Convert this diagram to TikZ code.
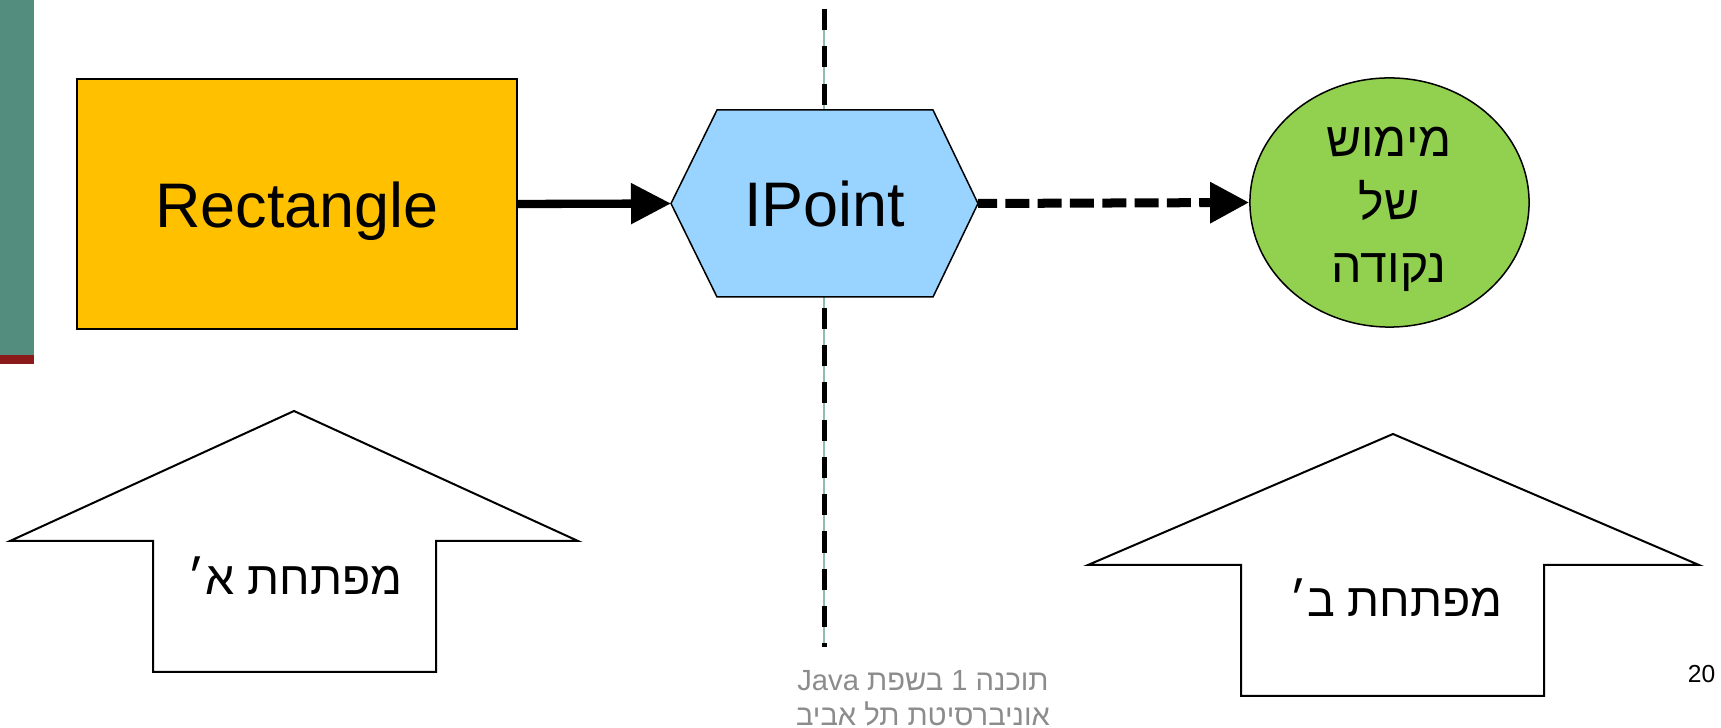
\documentclass[tikz,border=0pt]{standalone}
\usepackage{fontspec}
\setmainfont{Liberation Sans}
\newfontfamily\hebfont[Script=Hebrew]{Liberation Sans}
\TeXXeTstate=1
\usetikzlibrary{arrows.meta,shapes.geometric}
\definecolor{barteal}{HTML}{528D7E}
\definecolor{barred}{HTML}{8B1A1A}
\definecolor{rectfill}{HTML}{FFC000}
\definecolor{hexfill}{HTML}{99D3FF}
\definecolor{implfill}{HTML}{92D050}
\definecolor{guide}{HTML}{8DBDB0}
\definecolor{foot}{HTML}{8C8C8C}
\tikzset{
  bigtext/.style={font=\fontsize{17.9}{21}\selectfont, text height=0.46cm, text depth=0pt, inner sep=0pt},
  classbox/.style={draw=black, line width=0.02cm, fill=rectfill, minimum width=4.4cm, minimum height=2.5cm, bigtext},
  hexshape/.style={draw=black, line width=0.015cm, fill=hexfill, line join=miter},
  implshape/.style={ellipse, draw=black, line width=0.015cm, fill=implfill, minimum width=2.79cm, minimum height=2.49cm, inner sep=0pt},
  hebtext/.style={font=\hebfont\fontsize{13.2}{15}\selectfont, inner sep=0pt, anchor=base},
  implword/.style={font=\hebfont\fontsize{13.7}{15}\selectfont, inner sep=0pt, anchor=base},
  solidarrow/.style={line width=0.083cm, -{Triangle[length=0.4cm, width=0.39cm]}},
  dasharrow/.style={line width=0.09cm, dash pattern=on 0.24cm off 0.083cm, dash phase=0.05cm, -{Triangle[length=0.39cm, width=0.39cm]}},
  uparrow/.style={draw=black, line width=0.02cm, line join=miter},
  guideline/.style={draw=guide, line width=0.015cm},
  guidedash/.style={draw=black, line width=0.05cm, dash pattern=on 0.21cm off 0.163cm},
  foottext/.style={font=\hebfont\fontsize{8.3}{10}\selectfont, text=foot, inner sep=0pt, anchor=base},
  pagenum/.style={font=\fontsize{7}{8}\selectfont, inner sep=0pt, anchor=base}
}
\begin{document}
\begin{tikzpicture}[x=0.01cm, y=-0.01cm]
\useasboundingbox (0,0) rectangle (1721,728);
% left bar
\fill[barteal] (0,0) rectangle (34,355);
\fill[barred] (0,355) rectangle (34,364);
% vertical separator
\coordinate (sepT) at (824,9);
\coordinate (sepB) at (824,647);
\draw[guideline] (sepT) -- (sepB);
\draw[guidedash] (sepT) -- (sepB);
% class box
\node[classbox] (rect) at (297,204) {Rectangle};
% interface hexagon
\coordinate (hexW) at (671,203.5);
\coordinate (hexE) at (978,203.5);
\draw[hexshape] (hexW) -- (717,110) -- (933,110) -- (hexE) -- (933,297) -- (717,297) -- cycle;
\node[bigtext] (ip) at (824.5,203.5) {IPoint};
% implementation ellipse
\node[implshape] (impl) at (1389.5,202.5) {};
\node[implword] (impl1) at (1389,157) {\beginR מימוש\endR};
\node[implword] (impl2) at (1389,220) {\beginR של\endR};
\node[implword] (impl3) at (1389,283) {\beginR נקודה\endR};
% connectors
\draw[solidarrow] (rect.east) -- (hexW);
\draw[dasharrow] (hexE) -- (impl.west);
% developer arrows
\draw[uparrow] (294,411) -- (578,541) -- (436,541) -- (436,672) -- (153,672) -- (153,541) -- (10,541) -- cycle;
\node[hebtext] (devA) at (295,595) {\beginR מפתחת א׳\endR};
\draw[uparrow] (1393,434) -- (1699,565) -- (1544,565) -- (1544,696) -- (1241,696) -- (1241,565) -- (1088,565) -- cycle;
\node[hebtext] (devB) at (1396,617) {\beginR מפתחת ב׳\endR};
% footer
\node[foottext] (foot1) at (923,691) {\beginR תוכנה 1 בשפת \beginL Java\endL\endR};
\node[foottext] (foot2) at (923,726) {\beginR אוניברסיטת תל אביב\endR};
\node[pagenum] (page) at (1701.5,683) {20};
\end{tikzpicture}
\end{document}
